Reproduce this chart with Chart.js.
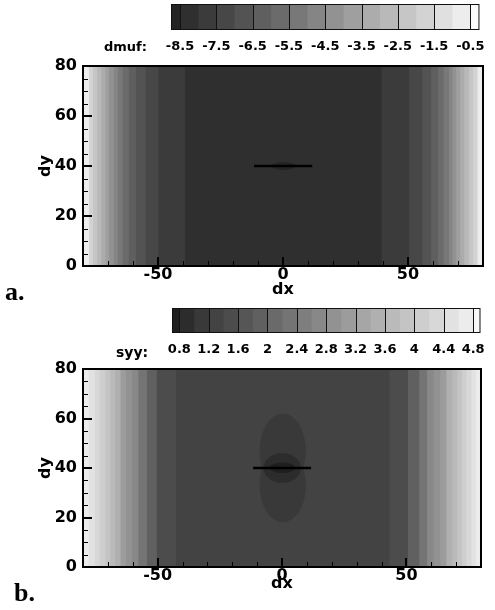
<!DOCTYPE html>
<html>
<head>
<meta charset="utf-8">
<script src="https://cdn.jsdelivr.net/npm/chart.js@4.4.1/dist/chart.umd.min.js"></script>
<style>
html,body{margin:0;padding:0;background:#fff;}
body{width:495px;height:610px;position:relative;overflow:hidden;font-family:"DejaVu Sans",sans-serif;}
canvas{position:absolute;left:0;}
.lbl{position:absolute;font-weight:bold;white-space:nowrap;line-height:1;color:#000;}
.serif{font-family:"Liberation Serif","DejaVu Serif",serif;}
</style>
</head>
<body>
<canvas id="cbA" width="495" height="60" style="top:0px"></canvas>
<canvas id="plotA" width="495" height="250" style="top:50px"></canvas>
<canvas id="cbB" width="495" height="60" style="top:300px"></canvas>
<canvas id="plotB" width="495" height="257" style="top:353px"></canvas>
<div class="lbl" style="left:104px;top:40px;font-size:13px;">dmuf:</div>
<div class="lbl" style="left:116px;top:345px;font-size:14px;">syy:</div>
<div class="lbl serif" style="left:5px;top:279px;font-size:26px;">a.</div>
<div class="lbl serif" style="left:14px;top:580px;font-size:26px;">b.</div>
<script>
// ---------- axes ----------
const dxTicks = [-50, 0, 50];
const dyTicks = [0, 20, 40, 60, 80];
const dxMinor = [-70, -60, -40, -30, -20, -10, 10, 20, 30, 40, 60, 70];
const dyMinor = [5, 10, 15, 25, 30, 35, 45, 50, 55, 65, 70, 75];
const dxRange = [-80, 80];
const dyRange = [0, 80];

// ---------- panel a : dmuf ----------
const dmufLevels = [-8.75, -8.5, -8, -7.5, -7, -6.5, -6, -5.5, -5, -4.5, -4, -3.5, -3, -2.5, -2, -1.5, -1, -0.5, -0.25];
const dmufTickLabels = [-8.5, -7.5, -6.5, -5.5, -4.5, -3.5, -2.5, -1.5, -0.5];
const dmufColors = ['#242424','#2f2f2f','#3b3b3b','#474747','#535353','#5f5f5f','#6b6b6b','#787878','#858585',
                    '#929292','#9f9f9f','#acacac','#b9b9b9','#c6c6c6','#d3d3d3','#e0e0e0','#ededed','#fbfbfb'];
// contour bands, outermost first: left edge, right edge, colour level
const dmufBandLeft  = [-80, -77.7, -76.0, -74.4, -72.7, -71.1, -69.6, -67.8, -66.1, -64.2, -61.8, -58.9, -55.0, -49.9, -39.3];
const dmufBandRight = [ 80,  77.9,  76.2,  74.5,  72.6,  71.0,  69.4,  67.9,  66.5,  64.3,  62.0,  59.4,  55.8,  50.5,  39.5];
const dmufBandLevel = [ 16,    14,    13,    12,    11,    10,     9,     8,     7,     6,     5,     4,     3,     2,     1];
const dmufPocketX = [0.2], dmufPocketY = [40], dmufPocketRX = [4.8], dmufPocketRY = [1.6], dmufPocketLevel = [0];

// ---------- panel b : syy ----------
const syyLevels = [0.7, 0.8, 1.0, 1.2, 1.4, 1.6, 1.8, 2.0, 2.2, 2.4, 2.6, 2.8, 3.0, 3.2, 3.4, 3.6, 3.8, 4.0, 4.2, 4.4, 4.6, 4.8, 4.9];
const syyTickLabels = [0.8, 1.2, 1.6, 2, 2.4, 2.8, 3.2, 3.6, 4, 4.4, 4.8];
const syyColors = ['#1f1f1f','#2c2c2c','#393939','#434343','#4c4c4c','#565656','#606060','#6a6a6a','#747474','#7e7e7e','#888888',
                   '#929292','#9c9c9c','#a6a6a6','#b0b0b0','#bababa','#c4c4c4','#cecece','#d8d8d8','#e2e2e2','#ececec','#f8f8f8'];
const syyBandLeft  = [-80, -77.8, -75.4, -73.4, -71.1, -69.1, -67.1, -65.0, -62.7, -60.3, -57.8, -54.4, -50.4, -42.7];
const syyBandRight = [ 80,  78.0,  76.2,  74.2,  72.4,  70.6,  68.6,  66.2,  63.7,  61.0,  58.4,  55.3,  50.7,  43.3];
const syyBandLevel = [ 20,    19,    18,    17,    16,    15,    14,    12,    11,    10,     8,     6,     4,     3];
const syyPocketX  = [0.3, 0.3, 0.1, 0.15];
const syyPocketY  = [47, 33, 40, 40.1];
const syyPocketRX = [9.3, 9.3, 7.5, 5.1];
const syyPocketRY = [15, 15, 6, 2.1];
const syyPocketLevel = [2, 2, 1, 0];

// ---------- crack (black segment) ----------
const crackX = [-11.6, 11.7];
const crackY = [40, 40];

const FONT = "'DejaVu Sans', sans-serif";
Chart.defaults.font.family = FONT;
Chart.defaults.color = '#000';

function colorbarLines() {
  return {
    id: 'colorbarLines',
    afterDraw(chart) {
      const {ctx, chartArea: a, scales: {x}} = chart;
      ctx.save();
      ctx.strokeStyle = '#111';
      ctx.lineWidth = 1;
      x.ticks.forEach(t => {
        const p = Math.round(x.getPixelForValue(t.value)) + 0.5;
        ctx.beginPath(); ctx.moveTo(p, a.top); ctx.lineTo(p, a.bottom); ctx.stroke();
      });
      ctx.strokeRect(a.left + 0.5, a.top + 0.5, a.right - a.left - 1, a.bottom - a.top - 1);
      ctx.restore();
    }
  };
}

function colorbar(id, levels, colors, tickLabels, pad, axisH, labelPad) {
  const datasets = colors.map((c, i) => ({
    data: [[levels[i], levels[i + 1]]],
    backgroundColor: c, borderWidth: 0, grouped: false,
    barPercentage: 1, categoryPercentage: 1
  }));
  return new Chart(document.getElementById(id), {
    type: 'bar',
    data: {labels: [''], datasets},
    options: {
      indexAxis: 'y', responsive: false, animation: false, devicePixelRatio: 1, events: [],
      layout: {padding: pad},
      plugins: {legend: {display: false}, tooltip: {enabled: false}},
      scales: {
        y: {display: false},
        x: {
          type: 'linear', min: levels[0], max: levels[levels.length - 1],
          afterBuildTicks: s => { s.ticks = tickLabels.map(v => ({value: v})); },
          afterFit: s => { s.height = axisH; },
          grid: {display: false, drawTicks: false, tickLength: 0},
          border: {display: false},
          ticks: {autoSkip: false, maxRotation: 0, padding: labelPad,
                  font: {size: 13, weight: 'bold', lineHeight: 1}, color: '#000',
                  callback: v => String(v)}
        }
      }
    },
    plugins: [colorbarLines()]
  });
}

function contour(id, bandL, bandR, bandLev, palette, pk, pad, xAxisH, xTitlePad) {
  const datasets = [{
    data: crackX.map((x, i) => ({x, y: crackY[i]})),
    borderColor: '#000', borderWidth: 2.6, pointRadius: 0, fill: false, tension: 0
  }];
  for (let i = bandL.length - 1; i >= 0; i--) {
    datasets.push({
      data: [{x: bandL[i], y: dyRange[1]}, {x: bandR[i], y: dyRange[1]}],
      backgroundColor: palette[bandLev[i]], borderColor: 'rgba(0,0,0,0)', borderWidth: 0,
      pointRadius: 0, fill: 'start', tension: 0
    });
  }
  const extras = {
    id: 'extras',
    afterDatasetDraw(chart, args) {
      if (args.index !== 1) return;
      const {ctx, chartArea: a, scales: {x, y}} = chart;
      ctx.save();
      ctx.beginPath(); ctx.rect(a.left, a.top, a.right - a.left, a.bottom - a.top); ctx.clip();
      for (let i = 0; i < pk.x.length; i++) {
        const cx = x.getPixelForValue(pk.x[i]), cy = y.getPixelForValue(pk.y[i]);
        const rx = Math.abs(x.getPixelForValue(pk.x[i] + pk.rx[i]) - cx);
        const ry = Math.abs(y.getPixelForValue(pk.y[i] + pk.ry[i]) - cy);
        ctx.beginPath(); ctx.ellipse(cx, cy, rx, ry, 0, 0, Math.PI * 2);
        ctx.fillStyle = palette[pk.level[i]]; ctx.fill();
      }
      ctx.restore();
    },
    afterDatasetsDraw(chart) {
      const {ctx, chartArea: a, scales: {x, y}} = chart;
      ctx.save();
      ctx.strokeStyle = '#000'; ctx.lineCap = 'butt';
      const seg = (x1, y1, x2, y2, w) => { ctx.lineWidth = w; ctx.beginPath(); ctx.moveTo(x1, y1); ctx.lineTo(x2, y2); ctx.stroke(); };
      dxMinor.forEach(v => { const p = Math.round(x.getPixelForValue(v)) + 0.5; seg(p, a.bottom, p, a.bottom - 5, 1); });
      dxTicks.forEach(v => { const p = Math.round(x.getPixelForValue(v)); seg(p, a.bottom, p, a.bottom - 9, 2); });
      dyMinor.forEach(v => { const p = Math.round(y.getPixelForValue(v)) + 0.5; seg(a.left, p, a.left + 5, p, 1); });
      dyTicks.forEach(v => { const p = Math.round(y.getPixelForValue(v)); seg(a.left, p, a.left + 9, p, 2); });
      ctx.lineWidth = 2;
      ctx.strokeRect(a.left, a.top, a.right - a.left, a.bottom - a.top);
      ctx.restore();
    }
  };
  const tickFont = {size: 16, weight: 'bold', lineHeight: 1};
  return new Chart(document.getElementById(id), {
    type: 'line',
    data: {datasets},
    options: {
      responsive: false, animation: false, devicePixelRatio: 1, events: [],
      layout: {padding: pad},
      plugins: {legend: {display: false}, tooltip: {enabled: false}},
      scales: {
        x: {
          type: 'linear', min: dxRange[0], max: dxRange[1],
          afterBuildTicks: s => { s.ticks = dxTicks.map(v => ({value: v})); },
          afterFit: s => { s.height = xAxisH; },
          grid: {display: false, drawTicks: false, tickLength: 0}, border: {display: false},
          ticks: {autoSkip: false, maxRotation: 0, padding: 1, font: tickFont, color: '#000', callback: v => String(v)},
          title: {display: true, text: 'dx', font: tickFont, color: '#000', padding: {top: 0, bottom: xTitlePad}}
        },
        y: {
          type: 'linear', min: dyRange[0], max: dyRange[1],
          afterBuildTicks: s => { s.ticks = dyTicks.map(v => ({value: v})); },
          afterFit: s => { s.width = 83; },
          grid: {display: false, drawTicks: false, tickLength: 0}, border: {display: false},
          ticks: {autoSkip: false, padding: 6, font: tickFont, color: '#000', callback: v => String(v)},
          title: {display: true, text: 'dy', font: tickFont, color: '#000', padding: {top: 37.5, bottom: 0}}
        }
      }
    },
    plugins: [extras]
  });
}

colorbar('cbA', dmufLevels, dmufColors, dmufTickLabels, {left: 171, right: 14, top: 4, bottom: 0}, 30, 10);
colorbar('cbB', syyLevels, syyColors, syyTickLabels, {left: 172, right: 14, top: 8, bottom: 0}, 27, 10);

contour('plotA', dmufBandLeft, dmufBandRight, dmufBandLevel, dmufColors,
  {x: dmufPocketX, y: dmufPocketY, rx: dmufPocketRX, ry: dmufPocketRY, level: dmufPocketLevel},
  {left: 0, right: 12, top: 16, bottom: 0}, 34, 2);
contour('plotB', syyBandLeft, syyBandRight, syyBandLevel, syyColors,
  {x: syyPocketX, y: syyPocketY, rx: syyPocketRX, ry: syyPocketRY, level: syyPocketLevel},
  {left: 0, right: 14, top: 16, bottom: 0}, 43, 18);
</script>
</body>
</html>
